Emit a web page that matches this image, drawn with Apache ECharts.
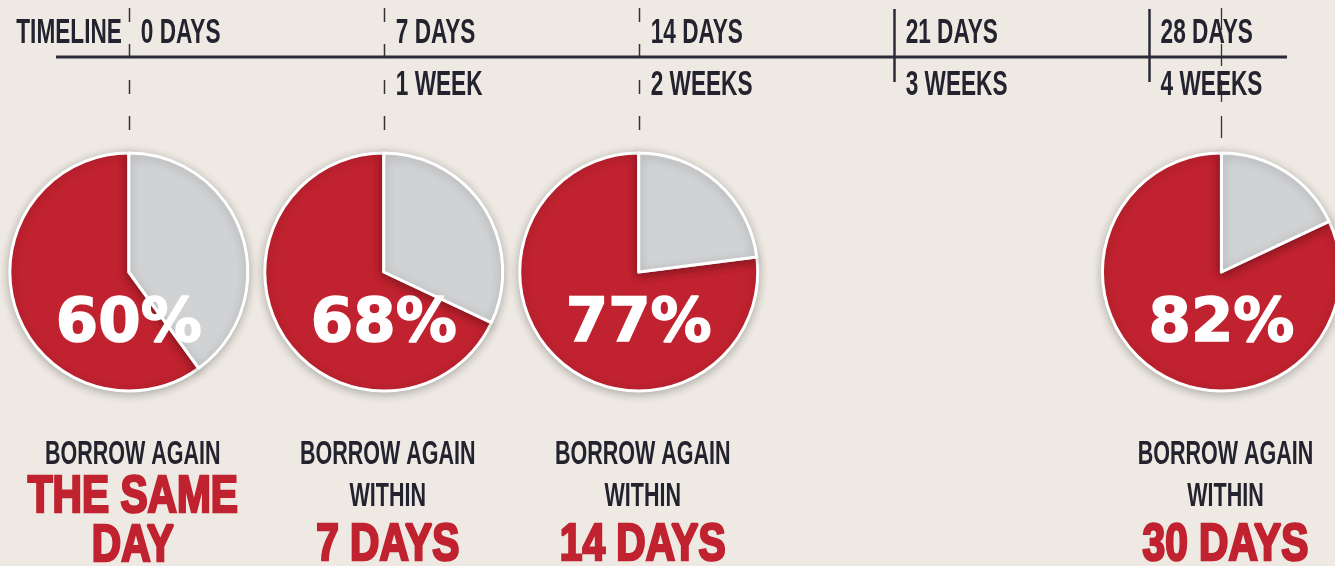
<!DOCTYPE html>
<html>
<head>
<meta charset="utf-8">
<script src="https://cdn.jsdelivr.net/npm/echarts@6/dist/echarts.min.js"></script>
<style>
  html, body { margin: 0; padding: 0; background: #eeeae3; }
  #main { width: 1335px; height: 566px; }
</style>
</head>
<body>
<div id="main"></div>
<script>
// ---- data ----
const tickDays = [0, 7, 14, 21, 28];
const dayLabels = ['0 DAYS', '7 DAYS', '14 DAYS', '21 DAYS', '28 DAYS'];
const weekLabels = ['', '1 WEEK', '2 WEEKS', '3 WEEKS', '4 WEEKS'];
const pieDays = [0, 7, 14, 30];
const repeatPct = [60, 68, 77, 82];
const captionTop = ['BORROW AGAIN', 'BORROW AGAIN', 'BORROW AGAIN', 'BORROW AGAIN'];
const captionMid = ['', 'WITHIN', 'WITHIN', 'WITHIN'];
const captionRed = [['THE SAME', 'DAY'], ['7 DAYS'], ['14 DAYS'], ['30 DAYS']];
const timelineTitle = 'TIMELINE';

// ---- styles ----
const RED = '#c1222f';
const GREY = '#d1d2d4';
const DARK = '#23232f';
const LINE_Y = 57;
const NARROW = '"Liberation Sans Narrow", "Arial Narrow", sans-serif';

const chart = echarts.init(document.getElementById('main'), null, { renderer: 'canvas' });

chart.setOption({
  backgroundColor: '#eeeae3',
  animation: false,
  grid: { left: 56, right: 48, top: 0, bottom: 0 },
  xAxis: { type: 'value', min: -2, max: 31.8, show: false },
  yAxis: { type: 'value', min: 0, max: 566, inverse: true, show: false },
  series: []
});

function px(d) { return chart.convertToPixel({ xAxisIndex: 0 }, d); }

const graphics = [];
function addLine(x1, y1, x2, y2, style) {
  graphics.push({
    type: 'line', silent: true, z: 1,
    shape: { x1: x1, y1: y1, x2: x2, y2: y2 },
    style: style
  });
}
function addText(text, x, y, opts) {
  graphics.push({
    type: 'text',
    x: x, y: y,
    scaleX: opts.scaleX || 1,
    scaleY: opts.scaleY || 1,
    silent: true,
    z: 100,
    style: {
      text: text,
      font: opts.font,
      fill: opts.fill,
      align: opts.align || 'center',
      verticalAlign: 'middle',
      textAlign: opts.align || 'center',
      textVerticalAlign: 'middle',
      stroke: opts.stroke || null,
      lineWidth: opts.lineWidth || 0
    }
  });
}

// timeline axis line
const xMin = chart.getModel().getComponent('xAxis', 0).get('min');
const xMax = chart.getModel().getComponent('xAxis', 0).get('max');
addLine(px(xMin), LINE_Y, px(xMax), LINE_Y, { stroke: '#2b2a38', lineWidth: 3 });
// ticks
tickDays.forEach(function (d) {
  const x = Math.round(px(d)) + 0.5;
  if (pieDays.indexOf(d) >= 0) {
    addLine(x, 8, x, 153, { stroke: '#333', lineWidth: 1.5, lineDash: [14, 22] });
  } else {
    addLine(x, 9, x, 82, { stroke: '#2b2a38', lineWidth: 2.5 });
  }
});
pieDays.forEach(function (d) {
  if (tickDays.indexOf(d) < 0) {
    const x = Math.round(px(d)) + 0.5;
    addLine(x, 8, x, 153, { stroke: '#333', lineWidth: 1.3, lineDash: [22, 14] });
  }
});

// timeline labels
const topFont = 'bold 26px ' + NARROW;
addText(timelineTitle, px(0) - 7, 33, { font: topFont, fill: DARK, align: 'right', scaleX: 0.87, scaleY: 1.37 });
tickDays.forEach(function (d, i) {
  addText(dayLabels[i], px(d) + 12, 33, { font: topFont, fill: DARK, align: 'left', scaleX: 0.87, scaleY: 1.37 });
  if (weekLabels[i]) addText(weekLabels[i], px(d) + 12, 85, { font: topFont, fill: DARK, align: 'left', scaleX: 0.87, scaleY: 1.37 });
});

// captions
const capFont = 'bold 25px ' + NARROW;
const redFont = 'bold 49px ' + NARROW;
pieDays.forEach(function (d, i) {
  const cx = px(d) + 4;
  addText(captionTop[i], cx, 455, { font: capFont, fill: DARK, scaleX: 0.86, scaleY: 1.33 });
  let row = 1;
  if (captionMid[i]) { addText(captionMid[i], cx, 497, { font: capFont, fill: DARK, scaleX: 0.86, scaleY: 1.33 }); row = 2; }
  captionRed[i].forEach(function (t, k) {
    const y = row === 1 ? 498 + k * 49 : 546;
    addText(t, cx, y, { font: redFont, fill: RED, stroke: RED, lineWidth: 2.5, scaleX: 0.83, scaleY: 1.04 });
  });
});

// pies
const pies = pieDays.map(function (d, i) {
  return {
    type: 'pie',
    silent: true,
    center: [px(d), 272],
    radius: 119,
    startAngle: 90,
    clockwise: false,
    animation: false,
    labelLine: { show: false },
    label: { show: false, position: 'center' },
    itemStyle: {
      borderColor: '#ffffff',
      borderWidth: 3,
      shadowBlur: 10,
      shadowColor: 'rgba(0,0,0,0.25)',
      shadowOffsetY: 2
    },
    data: [
      {
        value: repeatPct[i],
        itemStyle: { color: RED },
        label: {
          show: true,
          position: 'center',
          formatter: '{pad| }\n{v|{c}%}',
          rich: {
            pad: { height: 106, fontSize: 10, lineHeight: 106 },
            v: {
              color: '#ffffff',
              fontFamily: '"DejaVu Sans", sans-serif',
              fontWeight: 'bold',
              fontSize: 61,
              lineHeight: 66,
              textBorderColor: '#ffffff',
              textBorderWidth: 1.5
            }
          }
        }
      },
      { value: 100 - repeatPct[i], itemStyle: { color: GREY }, label: { show: false } }
    ]
  };
});

chart.setOption({ series: pies, graphic: { elements: graphics } });
</script>
</body>
</html>
